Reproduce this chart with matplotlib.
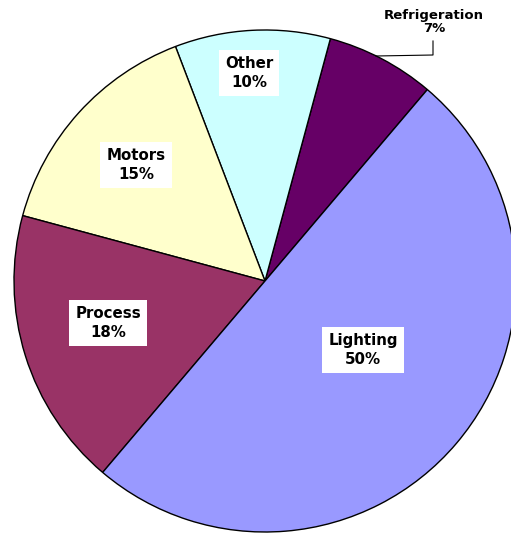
import matplotlib.pyplot as plt

# --- data ---
labels = ["Refrigeration", "Other", "Motors", "Process", "Lighting"]
shares = [7, 10, 15, 18, 50]
colors = ["#660066", "#CCFFFF", "#FFFFCC", "#993366", "#9999FF"]

W, H = 511, 535
fig = plt.figure(figsize=(W / 100, H / 100), dpi=100)
ax = fig.add_axes([0, 0, 1, 1])

cx, cy, r = 265, H - 281, 251
ax.pie(shares, colors=colors, startangle=49.7, counterclock=True,
       center=(cx, cy), radius=r,
       wedgeprops=dict(edgecolor="black", linewidth=1))

ax.set_xlim(0, W)
ax.set_ylim(0, H)
ax.set_aspect("equal")
ax.axis("off")

# --- labels (pixel positions from top-left) ---
label_pos = {
    "Other": (249, 73),
    "Motors": (136, 165),
    "Process": (108, 323),
    "Lighting": (363, 350),
}
for name, val in zip(labels, shares):
    if name in label_pos:
        x, y = label_pos[name]
        ax.text(x, H - y, f"{name}\n{val}%", ha="center", va="center",
                fontsize=10.8, fontweight="bold", linespacing=1.4,
                bbox=dict(boxstyle="square,pad=0.4", fc="white", ec="none"))

# refrigeration label sits outside with a leader line
ax.text(434, H - 22, f"{labels[0]}\n{shares[0]}%", ha="center", va="center",
        fontsize=9.5, fontweight="bold", linespacing=1.05)
ax.plot([433, 433, 376], [H - 41, H - 55, H - 56], color="black", lw=0.8)

fig.savefig("out.png", dpi=100)
